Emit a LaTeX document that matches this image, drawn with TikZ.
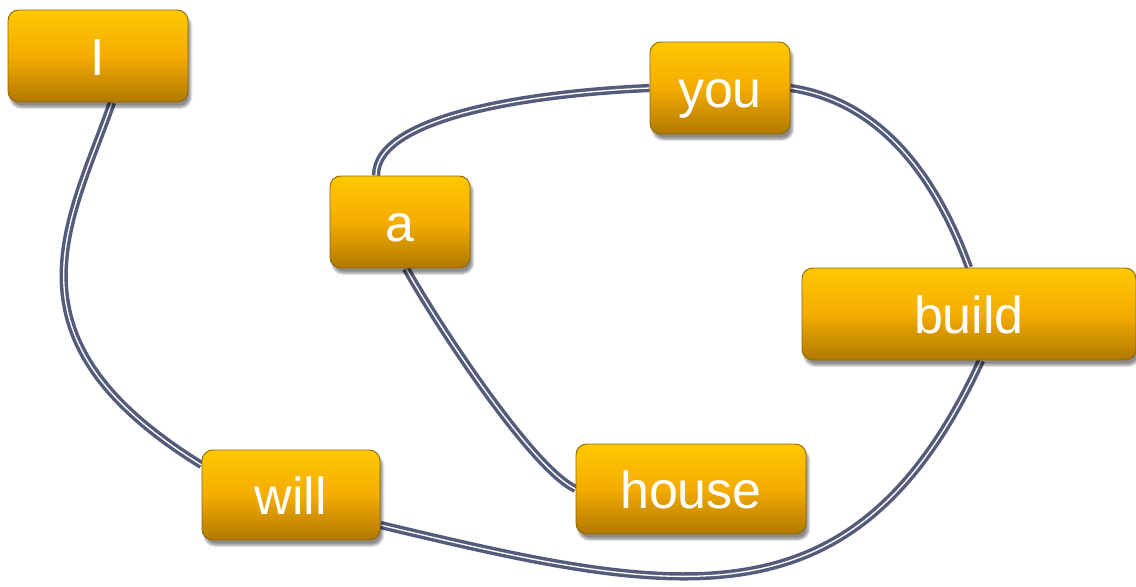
\documentclass[tikz,border=0pt]{standalone}
\usepackage{fontspec}
\usetikzlibrary{calc,shadows.blur,backgrounds}
\newfontfamily\wordfont{Liberation Sans}

\definecolor{boxtop}{HTML}{FFC800}
\definecolor{boxmid}{HTML}{F4AC00}
\definecolor{boxbot}{HTML}{B07800}
\definecolor{boxedge}{HTML}{8E6A08}
\definecolor{linkcol}{HTML}{555B7A}

\tikzset{
	wordbox/.style={rectangle, rounded corners=8pt, draw=boxedge, line width=0.7pt,
		top color=boxtop, bottom color=boxbot, middle color=boxmid,
		minimum height=69pt, inner sep=0pt, text=white,
		font=\wordfont\fontsize{39pt}{42pt}\selectfont, text height=37pt, text depth=8.5pt,
		blur shadow={shadow xshift=2pt, shadow yshift=-4pt, shadow opacity=45, shadow blur steps=6}},
	link/.style={draw=linkcol, double=white, line width=2.6pt, double distance=1pt}
}

\begin{document}
\begin{tikzpicture}[x=0.75pt,y=-0.75pt]
	\useasboundingbox (0,0) rectangle (1136,586);
	
	% words
	\node[wordbox, minimum width=135pt]   (I)     at (98,56)   {I};
	\node[wordbox, minimum width=105pt]   (you)   at (720,88)  {you};
	\node[wordbox, minimum width=105pt]   (a)     at (400,222) {a};
	\node[wordbox, minimum width=250.5pt] (build) at (969,314) {build};
	\node[wordbox, minimum width=133.5pt, minimum height=67.5pt] (will)  at (291,495) {will};
	\node[wordbox, minimum width=172.5pt, minimum height=67.5pt] (house) at (691,489) {house};
	
	% links behind the words
	\begin{pgfonlayer}{background}
		\draw[link] ($(I.south)+(14,0)$) .. controls +(-42,120) and +(-206,-127) .. ($(will.west)+(0,-30)$);
		\draw[link] ($(will.east)+(0,30)$) .. controls +(297,71) and +(-126,273) .. ($(build.south)+(12,0)$);
		\draw[link] (build.north) .. controls +(-31,-85) and +(94,14) .. (you.east);
		\draw[link] (you.west) .. controls +(-115,5) and +(0,-60) .. ($(a.north)+(-24,0)$);
		\draw[link] ($(a.south)+(6,0)$) .. controls +(24,44) and +(-46,-22) .. (house.west);
	\end{pgfonlayer}
\end{tikzpicture}
\end{document}
